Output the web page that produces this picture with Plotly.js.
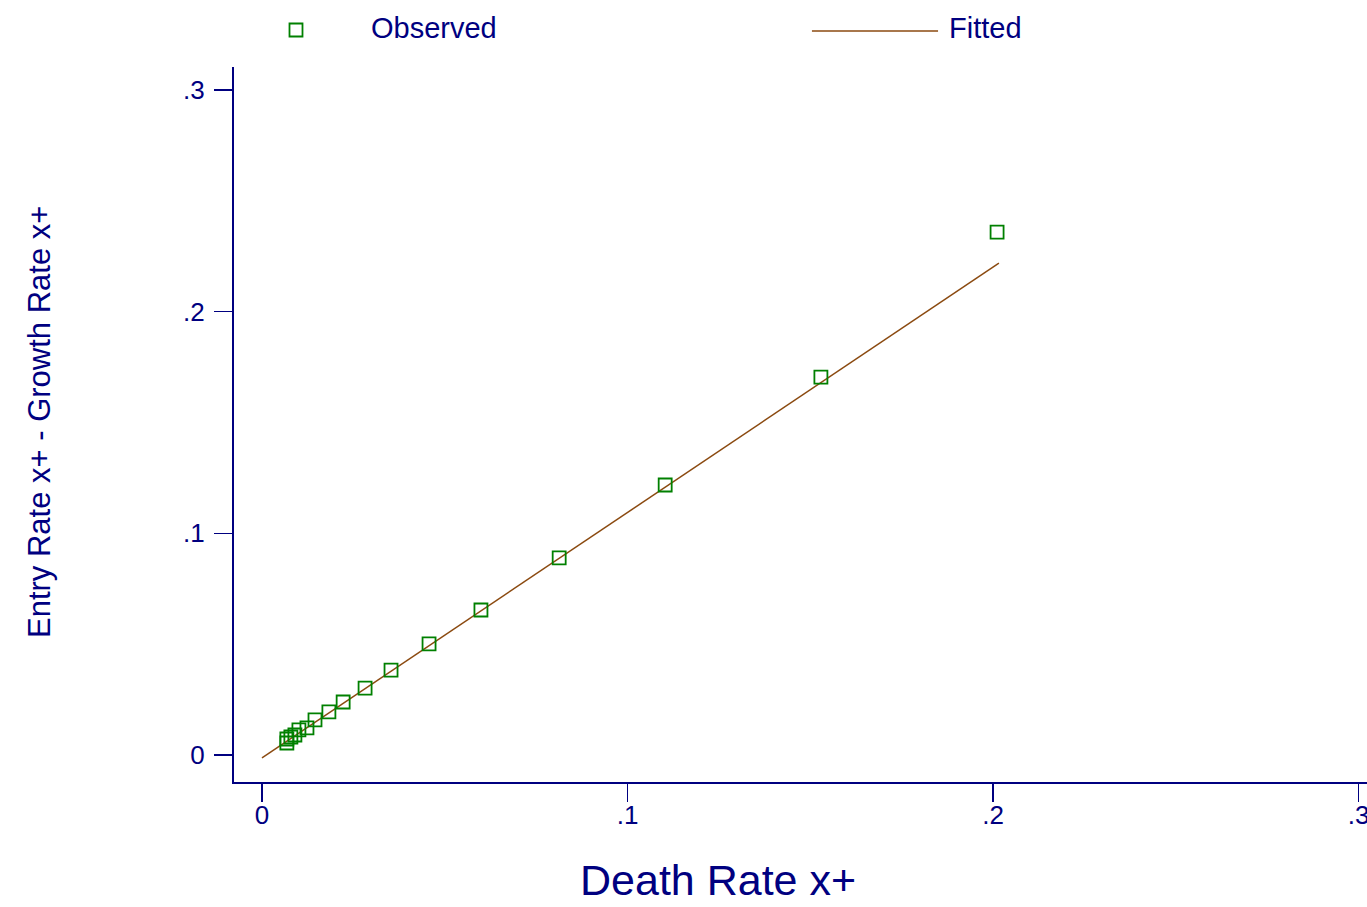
<!DOCTYPE html>
<html>
<head>
<meta charset="utf-8">
<script src="https://cdn.plot.ly/plotly-3.0.1.min.js"></script>
<style>html,body{margin:0;padding:0;background:#fff;}#chart{width:1367px;height:907px;}</style>
</head>
<body>
<div id="chart"></div>
<script>
// Observed points (Death Rate x+, Entry Rate x+ - Growth Rate x+)
const obsX = [0.2011, 0.1529, 0.1103, 0.0813, 0.0599, 0.0457, 0.0353, 0.0282, 0.0222, 0.0183, 0.0145, 0.0123, 0.0101, 0.0090, 0.0079, 0.0068, 0.0068];
const obsY = [0.2359, 0.1705, 0.1218, 0.0889, 0.0654, 0.0501, 0.0383, 0.0302, 0.0239, 0.0194, 0.0158, 0.0122, 0.0113, 0.0090, 0.0081, 0.0072, 0.0054];
// Fitted line end points
const fitX = [0, 0.2016];
const fitY = [-0.0013, 0.2219];
// Ticks
const xTickVals = [0, 0.1, 0.2, 0.3];
const xTickText = ["0", ".1", ".2", ".3"];
const yTickVals = [0, 0.1, 0.2, 0.3];
const yTickText = ["0", ".1", ".2", ".3"];

const navy = '#000080';
const green = '#008000';
const brown = '#8b4a10';
const font = 'Liberation Sans, Arial, sans-serif';

const traces = [
  {x: fitX, y: fitY, type: 'scatter', mode: 'lines', name: 'Fitted',
   line: {color: brown, width: 1.5}, showlegend: false, hoverinfo: 'skip'},
  {x: obsX, y: obsY, type: 'scatter', mode: 'markers', name: 'Observed',
   marker: {symbol: 'square-open', size: 13, color: green, line: {color: green, width: 1.8}},
   showlegend: false, cliponaxis: false}
];

const layout = {
  width: 1367, height: 907,
  margin: {l: 234, r: 0, t: 67, b: 125},
  paper_bgcolor: '#ffffff', plot_bgcolor: '#ffffff',
  font: {family: font, color: navy},
  showlegend: false,
  xaxis: {
    range: [-0.00766, 0.3023], showgrid: false, zeroline: false,
    showline: true, linecolor: navy, linewidth: 2,
    ticks: 'outside', ticklen: 18, tickwidth: 1.5, tickcolor: navy,
    tickvals: xTickVals, ticktext: xTickText,
    ticklabeloverflow: 'allow', ticklabelstandoff: -9,
    tickfont: {family: font, size: 26, color: navy}
  },
  yaxis: {
    range: [-0.0122, 0.3104], showgrid: false, zeroline: false,
    showline: true, linecolor: navy, linewidth: 2,
    ticks: 'outside', ticklen: 18, tickwidth: 1.5, tickcolor: navy,
    tickvals: yTickVals, ticktext: yTickText, ticklabelstandoff: 4,
    tickfont: {family: font, size: 26, color: navy}
  },
  annotations: [
    {text: 'Death Rate x+', xref: 'paper', yref: 'paper', x: 0.4272, y: -0.1371,
     xanchor: 'center', yanchor: 'middle', showarrow: false,
     font: {family: font, size: 43, color: navy}},
    {text: 'Entry Rate x+ - Growth Rate x+', xref: 'paper', yref: 'paper', x: -0.1712, y: 0.5035,
     xanchor: 'center', yanchor: 'middle', textangle: -90, showarrow: false,
     font: {family: font, size: 31, color: navy}},
    {text: 'Observed', xref: 'paper', yref: 'paper', x: 0.1192, y: 1.0545,
     xanchor: 'left', yanchor: 'middle', showarrow: false,
     font: {family: font, size: 29, color: navy}},
    {text: 'Fitted', xref: 'paper', yref: 'paper', x: 0.6293, y: 1.0545,
     xanchor: 'left', yanchor: 'middle', showarrow: false,
     font: {family: font, size: 29, color: navy}}
  ],
  shapes: [
    {type: 'rect', xref: 'paper', yref: 'paper', xsizemode: 'pixel', ysizemode: 'pixel',
     xanchor: 0.05472, yanchor: 1.05175, x0: -6.5, x1: 6.5, y0: -6.5, y1: 6.5,
     line: {color: green, width: 1.8}, fillcolor: 'rgba(0,0,0,0)'},
    {type: 'line', xref: 'paper', yref: 'paper', x0: 0.5101, x1: 0.6214, y0: 1.0503, y1: 1.0503,
     line: {color: brown, width: 1.5}}
  ]
};

Plotly.newPlot('chart', traces, layout, {displayModeBar: false, staticPlot: true});
</script>
</body>
</html>
